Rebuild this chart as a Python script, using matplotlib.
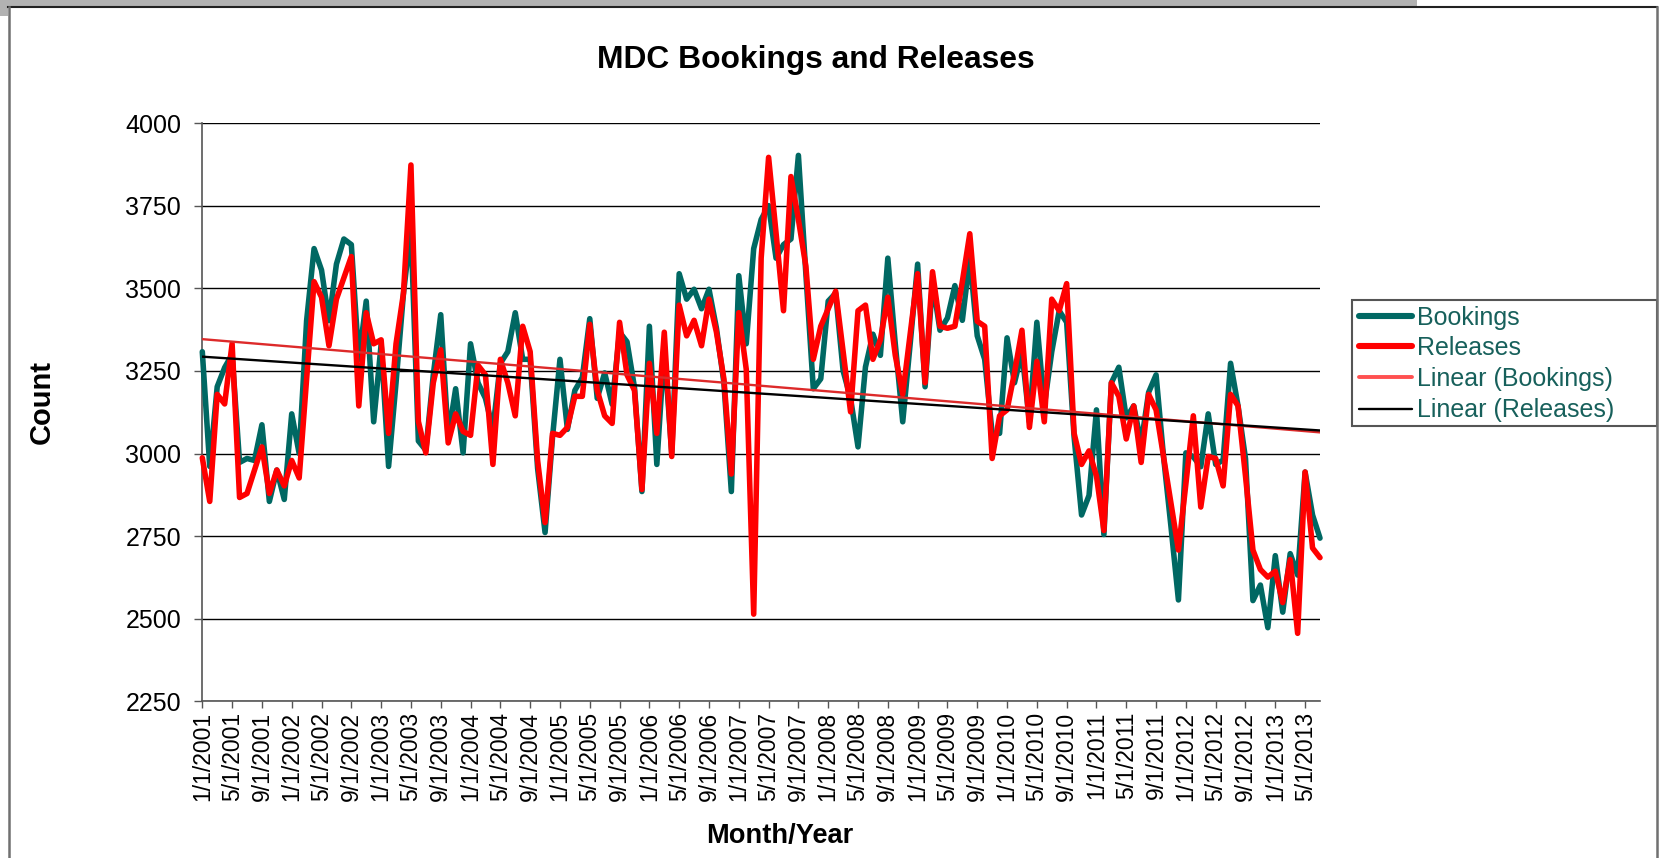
import numpy as np
import matplotlib
matplotlib.use('Agg')
import matplotlib.pyplot as plt
from matplotlib.lines import Line2D
from matplotlib.patches import Rectangle

plt.rcParams['font.family'] = ['Liberation Sans', 'DejaVu Sans']

# ---------------- data (monthly, Jan 2001 - Jul 2013) ----------------
bookings = [
    3308, 2961, 3202, 3260, 3300, 2973, 2985, 2979, 3087, 2855, 2950, 2861,
    3120, 3000, 3402, 3620, 3555, 3402, 3573, 3649, 3632, 3285, 3461, 3096,
    3330, 2961, 3214, 3485, 3680, 3038, 3010, 3238, 3420, 3050, 3196, 3002,
    3332, 3214, 3167, 3073, 3273, 3308, 3426, 3285, 3285, 2955, 2761, 3049,
    3285, 3073, 3191, 3230, 3408, 3167, 3244, 3149, 3367, 3338, 3200, 2885,
    3385, 2967, 3320, 3000, 3544, 3467, 3497, 3438, 3497, 3379, 3214, 2885,
    3538, 3332, 3620, 3708, 3750, 3591, 3632, 3649, 3902, 3544, 3196, 3226,
    3461, 3485, 3250, 3167, 3020, 3262, 3361, 3297, 3591, 3332, 3096, 3332,
    3573, 3202, 3520, 3373, 3410, 3508, 3403, 3591, 3356, 3285, 3061, 3061,
    3350, 3214, 3308, 3096, 3397, 3144, 3308, 3432, 3397, 3050, 2814, 2873,
    3132, 2755, 3214, 3261, 3108, 3144, 3030, 3185, 3238, 2991, 2779, 2557,
    3002, 2990, 2960, 3120, 2967, 2980, 3273, 3144, 2985, 2555, 2602, 2473,
    2691, 2520, 2697, 2632, 2944, 2814, 2744,
]
releases = [
    2987, 2855, 3179, 3150, 3332, 2867, 2879, 2950, 3020, 2879, 2950, 2902,
    2979, 2926, 3226, 3520, 3473, 3326, 3467, 3532, 3596, 3144, 3426, 3332,
    3344, 3061, 3332, 3485, 3873, 3097, 3002, 3214, 3314, 3032, 3120, 3067,
    3055, 3267, 3238, 2967, 3285, 3214, 3114, 3385, 3308, 2979, 2791, 3061,
    3055, 3079, 3173, 3173, 3391, 3191, 3114, 3091, 3397, 3238, 3191, 2891,
    3273, 3061, 3367, 2991, 3449, 3356, 3403, 3326, 3467, 3367, 3226, 2938,
    3426, 3255, 2514, 3591, 3896, 3667, 3432, 3838, 3708, 3567, 3285, 3385,
    3438, 3491, 3308, 3126, 3432, 3449, 3285, 3344, 3473, 3297, 3179, 3361,
    3544, 3214, 3550, 3385, 3379, 3385, 3520, 3665, 3400, 3385, 2985, 3114,
    3132, 3244, 3373, 3079, 3279, 3096, 3467, 3432, 3514, 3061, 2967, 3008,
    2932, 2767, 3214, 3173, 3044, 3144, 2973, 3179, 3132, 2990, 2850, 2708,
    2908, 3114, 2838, 2991, 2985, 2902, 3179, 3144, 2932, 2708, 2649, 2626,
    2644, 2549, 2679, 2456, 2944, 2714, 2685,
]
start_year, start_month = 2001, 1
tick_step = 4
y_ticks = [2250, 2500, 2750, 3000, 3250, 3500, 3750, 4000]
series_names = ['Bookings', 'Releases', 'Linear (Bookings)', 'Linear (Releases)']

# month labels
n = len(bookings)
month_labels = []
for k in range(n):
    m = (start_month - 1 + k) % 12 + 1
    y = start_year + (start_month - 1 + k) // 12
    month_labels.append(f"{m}/1/{y}")

# ---------------- figure ----------------
W, H = 1660, 858
fig = plt.figure(figsize=(W / 100, H / 100), dpi=100)


def fx(x):
    return x / W


def fy(y):
    return 1 - y / H


# outer decoration (frame of the chart object)
fig.add_artist(Rectangle((0, fy(6.3)), fx(1417), 6.3 / H, transform=fig.transFigure,
                         facecolor='#b2b2b2', edgecolor='none', zorder=0))
fig.add_artist(Rectangle((0, fy(16)), fx(8), 16 / H, transform=fig.transFigure,
                         facecolor='#b2b2b2', edgecolor='none', zorder=0))
fig.add_artist(Line2D([fx(8), fx(1657)], [fy(6.5), fy(6.5)], transform=fig.transFigure,
                      color='#222222', lw=1.5))
fig.add_artist(Line2D([fx(8.8), fx(8.8)], [fy(6.5), 0], transform=fig.transFigure,
                      color='#707070', lw=1.8))
fig.add_artist(Line2D([fx(1657), fx(1657)], [fy(6.5), 0], transform=fig.transFigure,
                      color='#707070', lw=1.8))

ax = fig.add_axes([fx(202.3), fy(701.4), fx(1320) - fx(202.3), fy(123) - fy(701.4)])
x = np.arange(n)

l_b, = ax.plot(x, bookings, color='#006863', lw=4.0, solid_joinstyle='round',
               solid_capstyle='round', zorder=3, clip_on=False)
l_r, = ax.plot(x, releases, color='#ff0000', lw=4.0, solid_joinstyle='round',
               solid_capstyle='round', zorder=4, clip_on=False)

cb = np.polyfit(x, bookings, 1)
cr = np.polyfit(x, releases, 1)
t_b, = ax.plot(x, np.polyval(cb, x), color='#dd2a2a', lw=1.7, zorder=5)
t_r, = ax.plot(x, np.polyval(cr, x), color='#000000', lw=1.7, zorder=6)

ax.set_xlim(0, n - 1)
ax.set_ylim(y_ticks[0], y_ticks[-1])
ax.set_yticks(y_ticks)
ax.set_yticklabels([str(v) for v in y_ticks])
tick_pos = list(range(0, n, tick_step))
ax.set_xticks(tick_pos)
ax.set_xticklabels([month_labels[k] for k in tick_pos], rotation=90)

ax.set_axisbelow(True)
ax.yaxis.grid(True, color='#000000', lw=1.0)
for s in ('top', 'right'):
    ax.spines[s].set_visible(False)
for s in ('left', 'bottom'):
    ax.spines[s].set_color('#555555')
    ax.spines[s].set_linewidth(1.2)
ax.tick_params(axis='y', direction='out', length=5.5, width=1.0, color='#555555',
               labelsize=18, pad=9.7)
ax.tick_params(axis='x', direction='out', length=5.0, width=1.0, color='#555555',
               labelsize=16.5, pad=2.5)

# titles
fig.text(fx(816), fy(60), 'MDC Bookings and Releases', ha='center', va='center',
         fontsize=22.9, fontweight='bold')
fig.text(fx(42), fy(402), 'Count', rotation=90, ha='center', va='center',
         fontsize=21, fontweight='bold')
fig.text(fx(780), fy(836), 'Month/Year', ha='center', va='center',
         fontsize=19.6, fontweight='bold')

# legend (drawn manually to match the box that runs off the right edge)
fig.add_artist(Rectangle((fx(1351.5), fy(425.5)), fx(1657) - fx(1351.5), (425.5 - 299.8) / H,
                         transform=fig.transFigure, facecolor='white',
                         edgecolor='#555555', lw=1.5, zorder=1))
rows_y = [315.5, 346.2, 377.0, 408.5]
handles = [(l_b.get_color(), 4.4), (l_r.get_color(), 4.4), ('#ff5050', 2.8), ('#000000', 1.7)]
for (col, lw), name, ry in zip(handles, series_names, rows_y):
    fig.add_artist(Line2D([fx(1359), fx(1412)], [fy(ry), fy(ry)], transform=fig.transFigure,
                          color=col, lw=lw, solid_capstyle='round', zorder=2))
    fig.text(fx(1416.5), fy(ry + 9.0), name, ha='left', va='baseline', fontsize=18,
             color='#17605b', zorder=2)

fig.savefig('out.png', dpi=100)
